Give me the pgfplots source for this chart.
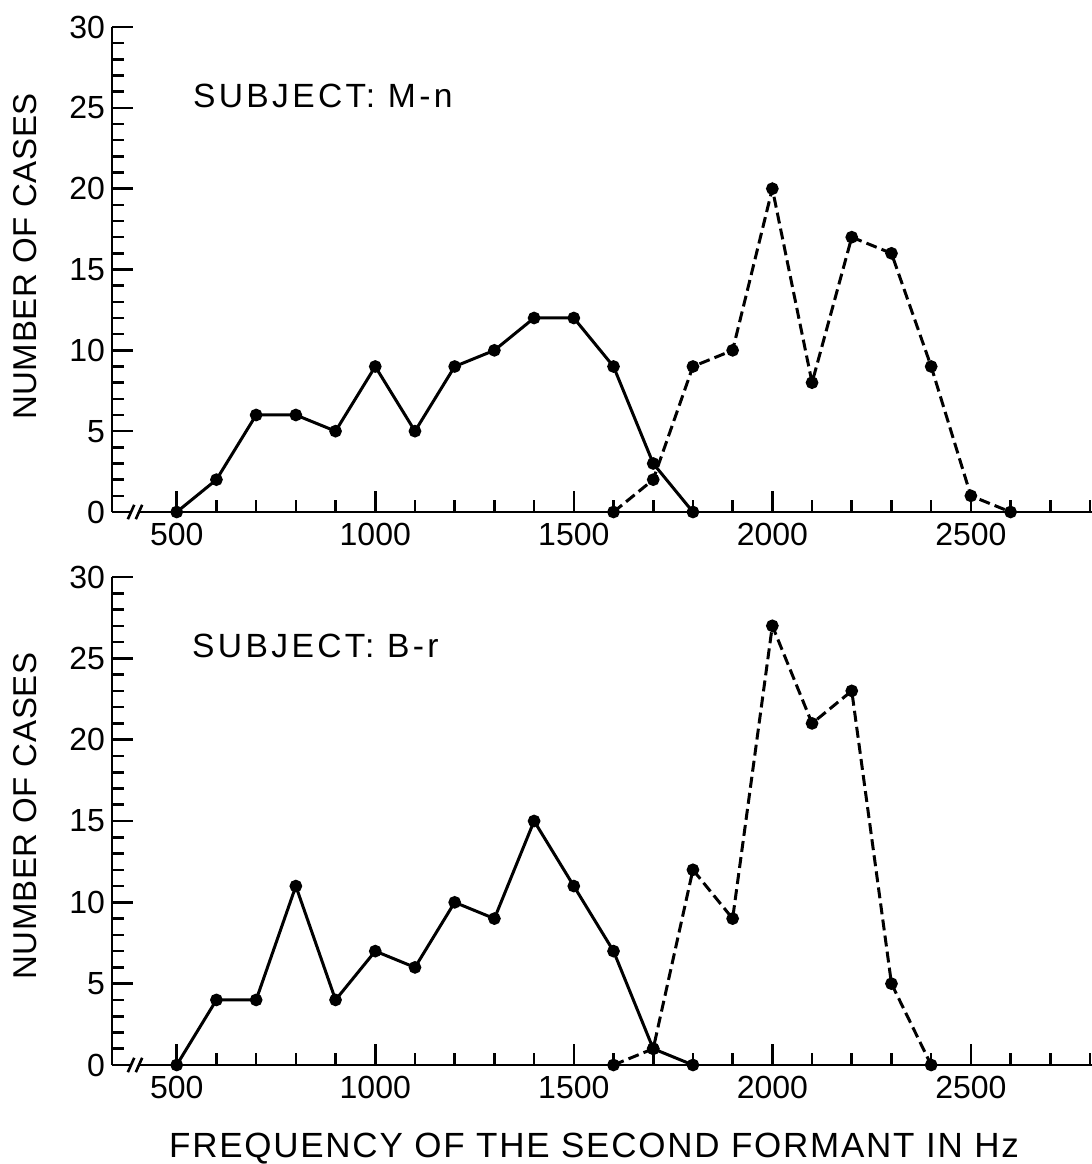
\documentclass[border=0pt]{standalone}
\usepackage{pgfplots}
\pgfplotsset{compat=1.18}
\usepackage{fontspec}
\setmainfont{Liberation Sans}
\newcommand{\tickfont}{\fontsize{16}{19}\selectfont}
\newcommand{\ylabfont}{\addfontfeatures{LetterSpace=2}\fontsize{16.5}{20}\selectfont}
\newcommand{\xlabfont}{\addfontfeatures{LetterSpace=5}\fontsize{17.5}{21}\selectfont}
\newcommand{\subfont}{\addfontfeatures{LetterSpace=10}\fontsize{16.8}{20}\selectfont}
\begin{document}
\begin{tikzpicture}
\path[use as bounding box] (-56pt,-49.5pt) rectangle (490pt,532.5pt);
\pgfplotsset{
  myax/.style={
    scale only axis, width=490pt,
    xmin=337, xmax=2805, ymin=0, ymax=30,
    axis lines=left, axis line style={-, line width=1.4pt},
    tick align=inside,
    xtick={500,1000,...,2500}, minor xtick={600,700,...,2800},
    ytick={0,5,...,30}, minor ytick={1,...,29},
    major tick length=10.5pt, minor tick length=6pt,
    every tick/.append style={black, line width=1.3pt},
    tick label style={font=\tickfont},
    xticklabel style={yshift=-2pt},
    /pgf/number format/assume math mode=true,
    /pgf/number format/1000 sep={},
    clip=false,
  },
  solidser/.style={black, line width=1.5pt, mark=*, mark size=2.4pt},
  dashser/.style={black, line width=1.5pt, dash pattern=on 5.5pt off 2.6pt, mark=*, mark size=2.4pt, mark options={solid}},
}
% bottom panel
\begin{axis}[myax, height=244pt, at={(0,0)}, anchor=south west]
\addplot[solidser] coordinates {(500,0) (600,4) (700,4) (800,11) (900,4) (1000,7) (1100,6) (1200,10) (1300,9) (1400,15) (1500,11) (1600,7) (1700,1) (1800,0)};
\addplot[dashser] coordinates {(1600,0) (1700,1) (1800,12) (1900,9) (2000,27) (2100,21) (2200,23) (2300,5) (2400,0)};
\node[anchor=base west, font=\subfont, inner sep=0pt] at (axis cs:538,25.05) {SUBJECT: B-r};
\draw[white, line width=2pt] (axis cs:388,0) -- (axis cs:402,0);
\draw[black, line width=1.3pt] ([xshift=-1.6pt,yshift=-3.6pt]axis cs:385,0) -- ([xshift=1.6pt,yshift=3.6pt]axis cs:385,0);
\draw[black, line width=1.3pt] ([xshift=-1.6pt,yshift=-3.6pt]axis cs:405,0) -- ([xshift=1.6pt,yshift=3.6pt]axis cs:405,0);
\node[rotate=90, anchor=center, font=\ylabfont, inner sep=0pt] at ([xshift=-43.5pt,yshift=2.5pt]rel axis cs:0,0.5) {NUMBER OF CASES};
\node[anchor=base, font=\xlabfont, inner sep=0pt] at ([xshift=-4pt,yshift=-46pt]rel axis cs:0.5,0) {FREQUENCY OF THE SECOND FORMANT IN Hz};
\end{axis}
% top panel
\begin{axis}[myax, height=242.5pt, at={(0,276.5pt)}, anchor=south west]
\addplot[solidser] coordinates {(500,0) (600,2) (700,6) (800,6) (900,5) (1000,9) (1100,5) (1200,9) (1300,10) (1400,12) (1500,12) (1600,9) (1700,3) (1800,0)};
\addplot[dashser] coordinates {(1600,0) (1700,2) (1800,9) (1900,10) (2000,20) (2100,8) (2200,17) (2300,16) (2400,9) (2500,1) (2600,0)};
\node[anchor=base west, font=\subfont, inner sep=0pt] at (axis cs:540,25.05) {SUBJECT: M-n};
\draw[white, line width=2pt] (axis cs:388,0) -- (axis cs:402,0);
\draw[black, line width=1.3pt] ([xshift=-1.6pt,yshift=-3.6pt]axis cs:385,0) -- ([xshift=1.6pt,yshift=3.6pt]axis cs:385,0);
\draw[black, line width=1.3pt] ([xshift=-1.6pt,yshift=-3.6pt]axis cs:405,0) -- ([xshift=1.6pt,yshift=3.6pt]axis cs:405,0);
\node[rotate=90, anchor=center, font=\ylabfont, inner sep=0pt] at ([xshift=-43.5pt,yshift=6.5pt]rel axis cs:0,0.5) {NUMBER OF CASES};
\end{axis}
\end{tikzpicture}
\end{document}
